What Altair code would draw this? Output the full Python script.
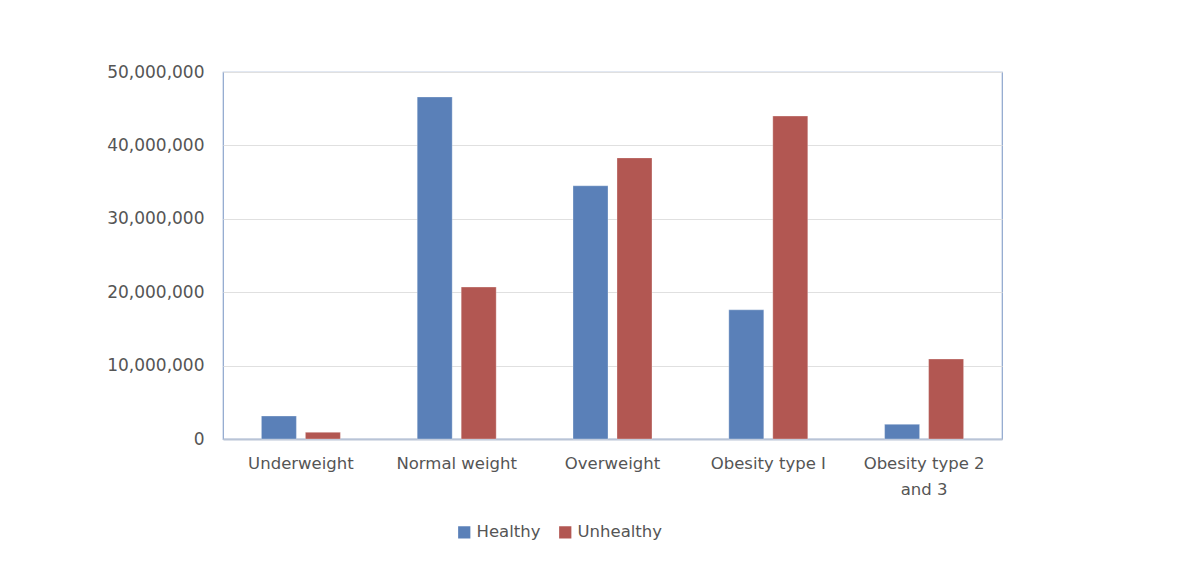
import altair as alt
import pandas as pd

categories = ["Underweight", "Normal weight", "Overweight", "Obesity type I", "Obesity type 2 and 3"]
healthy = [3130000, 46600000, 34500000, 17600000, 2000000]
unhealthy = [910000, 20700000, 38300000, 44000000, 10900000]
series = ["Healthy", "Unhealthy"]
colors = ["#5a80b8", "#b25752"]

rows = []
for c, h, u in zip(categories, healthy, unhealthy):
    rows.append({"category": c, "series": "Healthy", "value": h})
    rows.append({"category": c, "series": "Unhealthy", "value": u})
df = pd.DataFrame(rows)

FONT = "DejaVu Sans"

chart = alt.Chart(df).mark_bar(stroke="white", strokeWidth=0.6, strokeOpacity=0.5).encode(
    x=alt.X("category:N", sort=categories, title=None,
            scale=alt.Scale(paddingInner=0.493, paddingOuter=0.2465),
            axis=alt.Axis(labelAngle=0, labelFont=FONT, labelFontSize=16.5, labelColor="#555555",
                          ticks=False, labelPadding=16, domainColor="#b9c4d6", domainWidth=2,
                          labelLimit=200, labelLineHeight=26,
                          labelExpr="datum.label == 'Obesity type 2 and 3' ? ['Obesity type 2', 'and 3'] : datum.label")),
    xOffset=alt.XOffset("series:N", sort=series, scale=alt.Scale(paddingInner=0.2045, paddingOuter=0)),
    y=alt.Y("value:Q", title=None,
            scale=alt.Scale(domain=[0, 50000000], nice=False),
            axis=alt.Axis(values=[0, 10000000, 20000000, 30000000, 40000000, 50000000],
                          format=",d", labelFont=FONT, labelFontSize=17, labelColor="#555555",
                          ticks=False, labelPadding=19, domain=False,
                          gridColor="#e0e0e0", gridWidth=1)),
    color=alt.Color("series:N", sort=series, scale=alt.Scale(domain=series, range=colors),
                    legend=alt.Legend(title=None, orient="none", direction="horizontal",
                                      legendX=233, legendY=452, symbolType="square",
                                      symbolSize=150, symbolStrokeWidth=0, labelFont=FONT,
                                      labelFontSize=16.5, labelColor="#555555", columnPadding=16,
                                      labelOffset=4)),
).properties(
    width=779, height=367,
    autosize=alt.AutoSizeParams(type="none"),
    padding={"left": 215, "top": 64, "right": 150, "bottom": 112},
).configure_view(
    stroke="#8ca5cc", strokeWidth=1.2
)

chart.save("out.html", embed_options={"renderer": "svg", "actions": False})
